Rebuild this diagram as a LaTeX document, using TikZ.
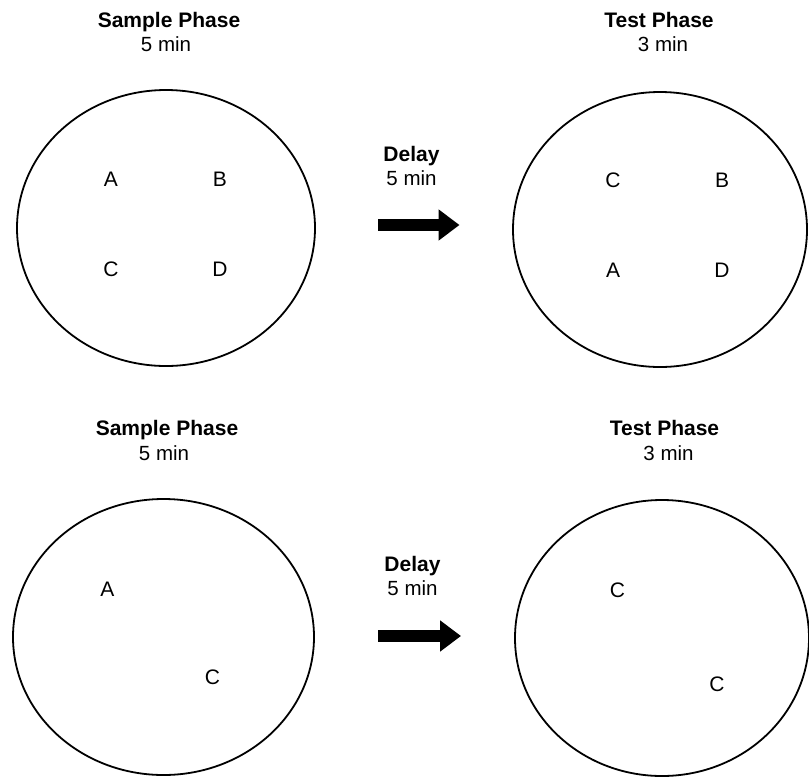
\documentclass[tikz,border=0pt]{standalone}
\usepackage{fontspec}
\setmainfont{Liberation Sans}
\usetikzlibrary{shapes.geometric,arrows.meta}
\begin{document}
\begin{tikzpicture}[x=1pt,y=-1pt,
  dish/.style={draw, ellipse, line width=1.8pt, inner sep=0pt},
  ttl/.style={anchor=base, font=\fontsize{21}{25}\selectfont\bfseries, inner sep=0pt},
  sub/.style={anchor=base, font=\fontsize{20.5}{24}\selectfont, inner sep=0pt},
  obj/.style={font=\fontsize{21}{25}\selectfont, inner sep=0pt},
  blockarrow/.style={line width=12pt, -{Triangle[length=21pt,width=30pt]}}]
\useasboundingbox (0,0) rectangle (809,777);

% top row
\node[ttl] (t1) at (169,27.5) {Sample Phase};
\node[sub] (s1) at (166,51) {5 min};
\node[dish, minimum width=298pt, minimum height=276pt] (e1) at (166,228) {};
\node[obj] (a1) at (111,179) {A};
\node[obj] (b1) at (220,179) {B};
\node[obj] (c1) at (111,269) {C};
\node[obj] (d1) at (220,269) {D};

\node[ttl] (dl1) at (411.5,161.5) {Delay};
\node[sub] (dm1) at (411.5,185) {5 min};
\coordinate (p1) at (378,225);
\coordinate (q1) at (459.5,225);
\draw[blockarrow] (p1) -- (q1);

\node[ttl] (t2) at (659,27.5) {Test Phase};
\node[sub] (s2) at (663,51) {3 min};
\node[dish, minimum width=294pt, minimum height=275pt] (e2) at (660,229.5) {};
\node[obj] (c2) at (613,180) {C};
\node[obj] (b2) at (722,180) {B};
\node[obj] (a2) at (613,270) {A};
\node[obj] (d2) at (722,270) {D};

% bottom row
\node[ttl] (t3) at (167,435) {Sample Phase};
\node[sub] (s3) at (164,460) {5 min};
\node[dish, minimum width=301pt, minimum height=276pt] (e3) at (163.5,637) {};
\node[obj] (a3) at (107.5,589) {A};
\node[obj] (c3) at (212.5,677.5) {C};

\node[ttl] (dl2) at (412.5,571.5) {Delay};
\node[sub] (dm2) at (412.5,595) {5 min};
\coordinate (p2) at (378,636);
\coordinate (q2) at (461,636);
\draw[blockarrow] (p2) -- (q2);

\node[ttl] (t4) at (664.5,435) {Test Phase};
\node[sub] (s4) at (668.5,460) {3 min};
\node[dish, minimum width=294pt, minimum height=276pt] (e4) at (662,638) {};
\node[obj] (c4) at (617.5,590) {C};
\node[obj] (c5) at (717,684.5) {C};
\end{tikzpicture}
\end{document}
